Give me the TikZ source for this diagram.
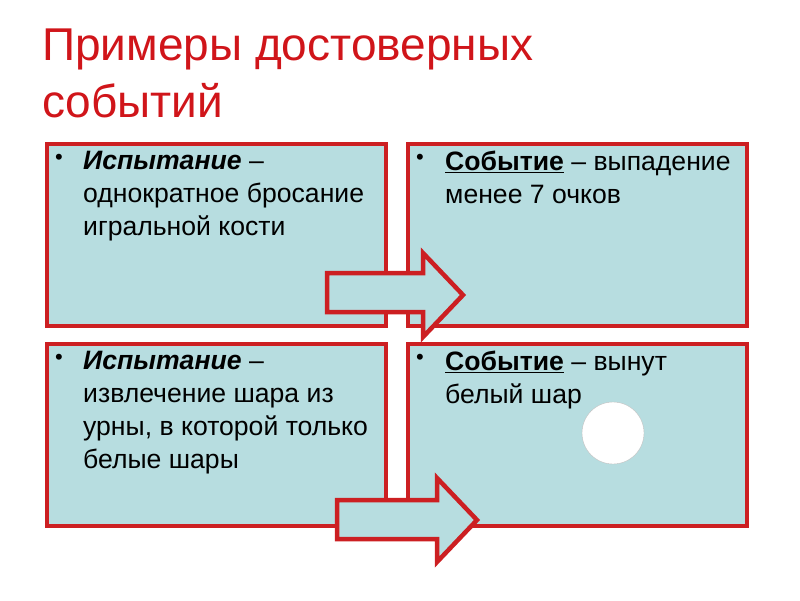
\documentclass[tikz,border=0pt]{standalone}
\usepackage{fontspec}
\setmainfont{Liberation Sans}
\usepackage{xcolor}
\usetikzlibrary{positioning, calc}

\definecolor{slidered}{HTML}{D0151A}
\definecolor{boxred}{HTML}{CC1F22}
\definecolor{boxfill}{HTML}{B7DDE0}

\begin{document}
\begin{tikzpicture}[
    x=1pt, y=-1pt,
    card/.style={draw=boxred, fill=boxfill, line width=3.5pt, anchor=north west,
                 minimum width=339pt, minimum height=182pt, inner sep=0pt},
    body/.style={anchor=north west, align=left, inner sep=0pt,
                 font=\fontsize{26.6}{33}\selectfont},
    bul/.style={anchor=north west, inner sep=0pt, font=\fontsize{22}{33}\selectfont},
    bigarrow/.style={draw=boxred, fill=boxfill, line width=4.5pt, line join=miter},
]
\useasboundingbox (0,0) rectangle (800,600);

% --- Title ---
\node[anchor=north west, align=left, inner sep=0pt, text=slidered,
      font=\fontsize{46}{57}\selectfont] (title) at (42,29)
      {Примеры достоверных\\событий};

% --- Boxes: two rows ---
\node[card] (trial1) at (45,142) {};
\node[card] (event1) at (406,142) {};
\node[card] (trial2) at (45,342) {};
\node[card] (event2) at (406,342) {};

% --- Box texts ---
\node[bul] (b1) at ($(trial1.north west)+(10,12)$) {\textbullet};
\node[body] (t1) at ($(trial1.north west)+(38,9)$)
      {\textbf{\textit{Испытание}} –\\однократное бросание\\игральной кости};

\node[bul] (b2) at ($(event1.north west)+(10,12)$) {\textbullet};
\node[body] (e1) at ($(event1.north west)+(39,9)$)
      {\underline{\textbf{Событие}} – выпадение\\менее 7 очков};

\node[bul] (b3) at ($(trial2.north west)+(10,12)$) {\textbullet};
\node[body] (t2) at ($(trial2.north west)+(38,9)$)
      {\textbf{\textit{Испытание}} –\\извлечение шара из\\урны, в которой только\\белые шары};

\node[bul] (b4) at ($(event2.north west)+(10,12)$) {\textbullet};
\node[body] (e2) at ($(event2.north west)+(39,9)$)
      {\underline{\textbf{Событие}} – вынут\\белый шар};

% --- White ball ---
\node[circle, draw=gray!50, line width=0.4pt, fill=white, minimum size=62pt,
      inner sep=0pt] (ball) at (613,433) {};

% ===================== ARROWS =====================

% Trial 1 -> Event 1
\coordinate (a1) at (327,273);
\draw[bigarrow] (a1) -- ++(96,0) -- ++(0,-20) -- ++(40,42) -- ++(-40,42)
      -- ++(0,-25) -- ++(-96,0) -- cycle;

% Trial 2 -> Event 2
\coordinate (a2) at (337,500);
\draw[bigarrow] (a2) -- ++(100,0) -- ++(0,-22) -- ++(40,42) -- ++(-40,42)
      -- ++(0,-23) -- ++(-100,0) -- cycle;

\end{tikzpicture}
\end{document}
